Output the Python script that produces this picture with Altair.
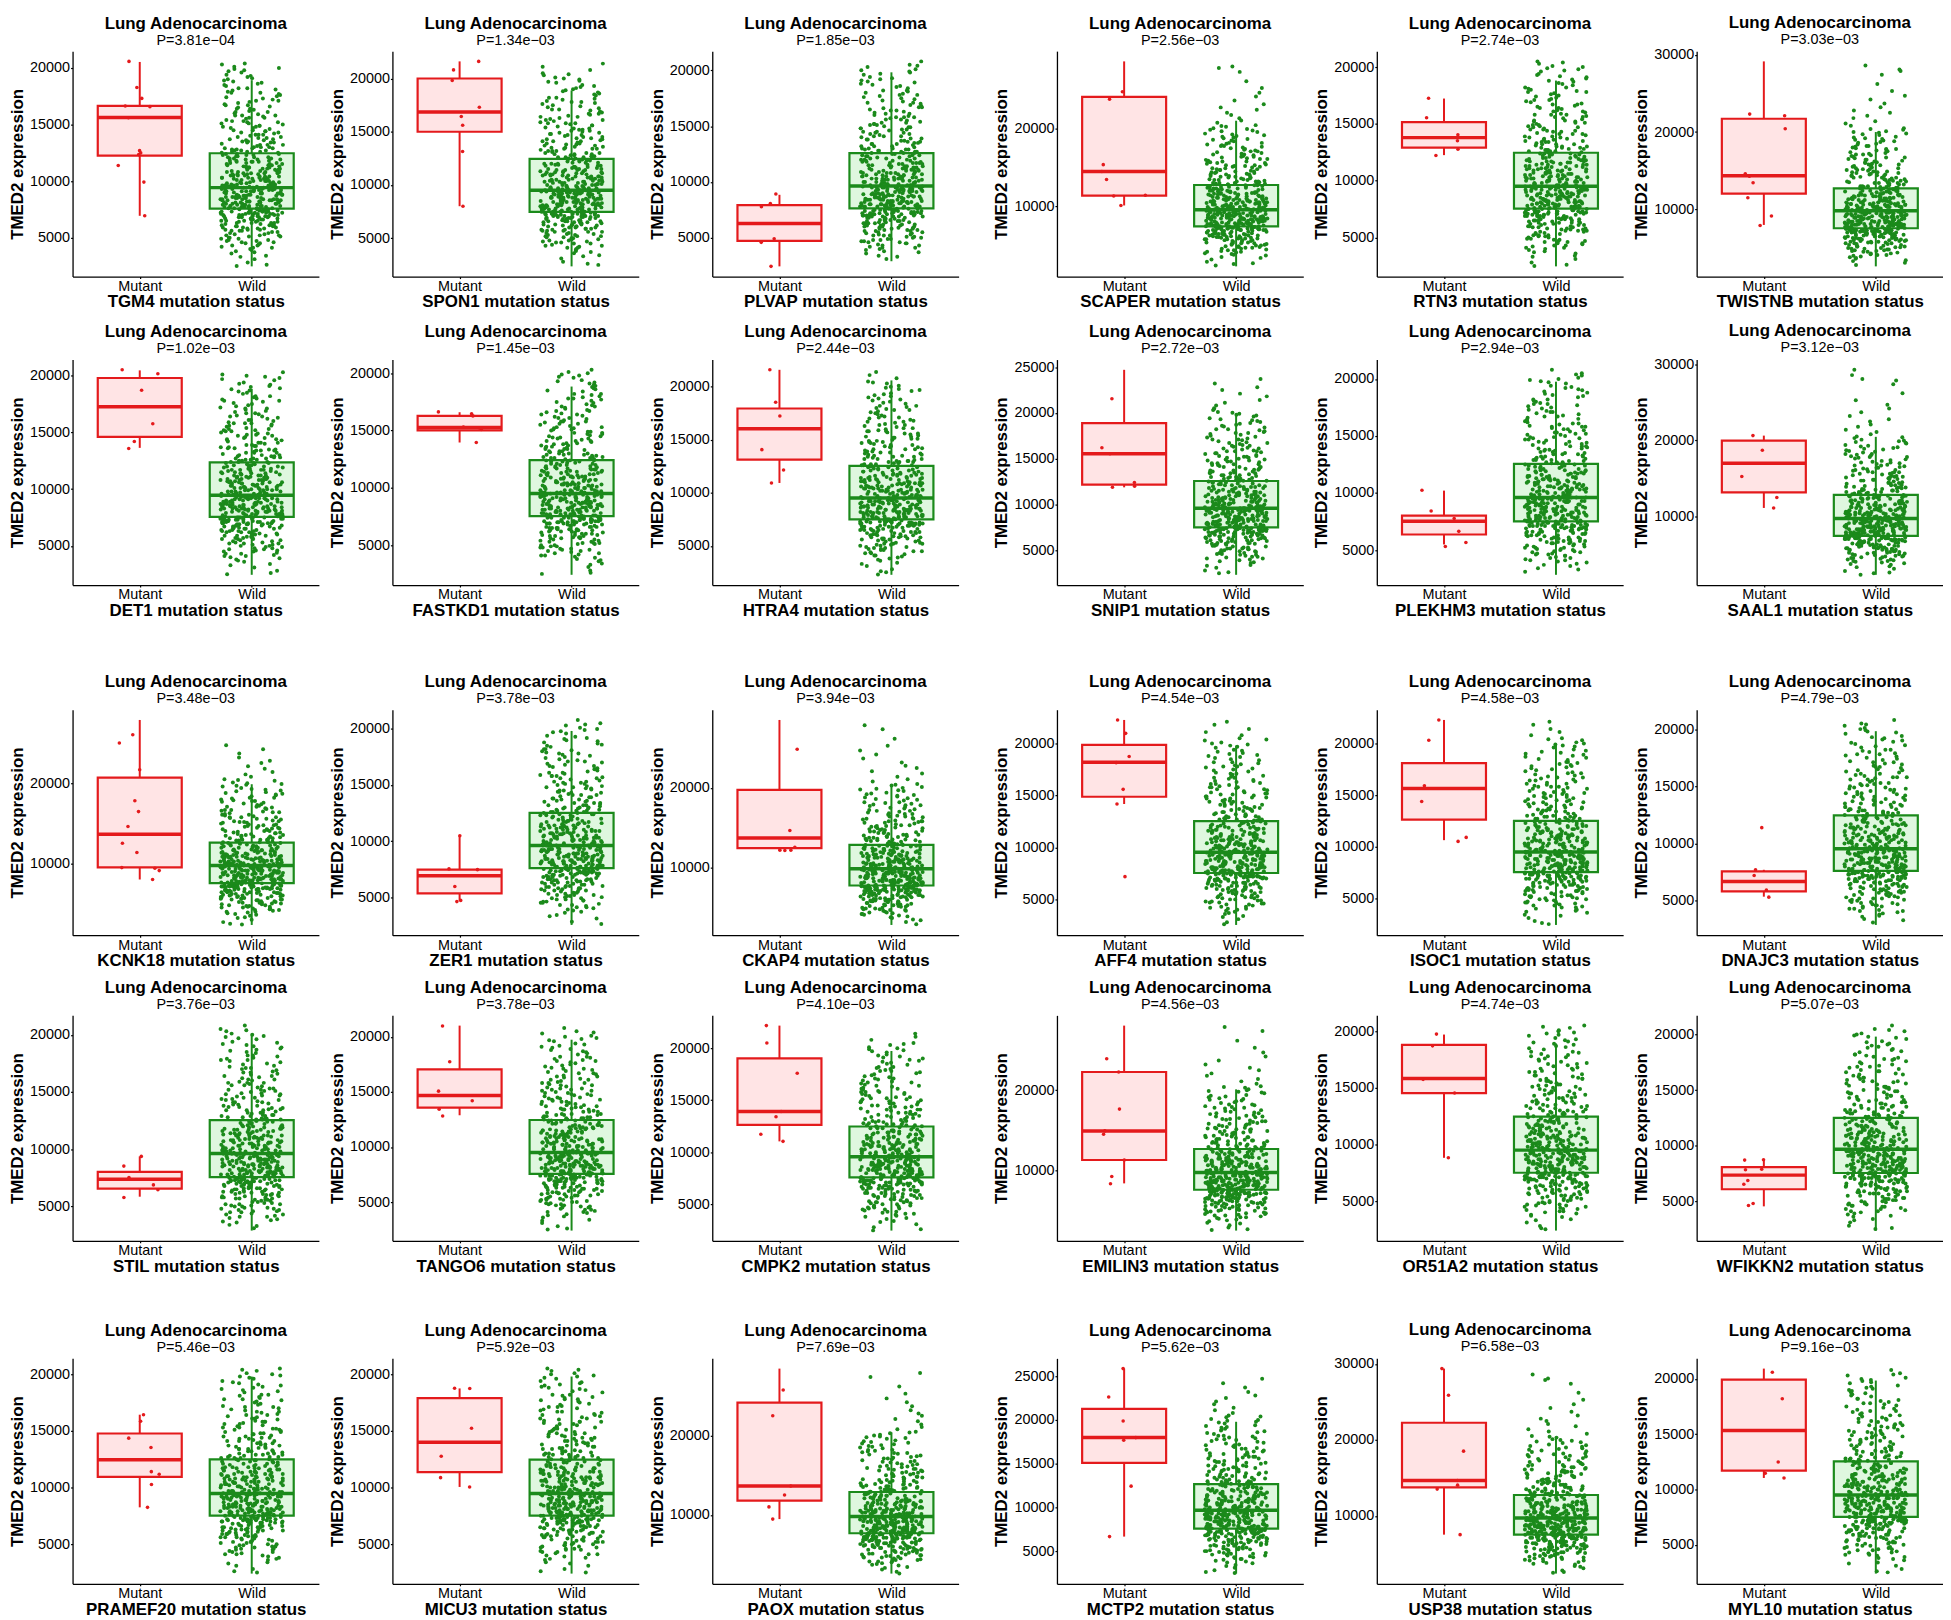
import altair as alt
import pandas as pd

genes = ["TGM4", "SPON1", "PLVAP", "SCAPER", "RTN3", "TWISTNB",
         "DET1", "FASTKD1", "HTRA4", "SNIP1", "PLEKHM3", "SAAL1",
         "KCNK18", "ZER1", "CKAP4", "AFF4", "ISOC1", "DNAJC3",
         "STIL", "TANGO6", "CMPK2", "EMILIN3", "OR51A2", "WFIKKN2",
         "PRAMEF20", "MICU3", "PAOX", "MCTP2", "USP38", "MYL10"]

p_values = ["3.81e-04", "1.34e-03", "1.85e-03", "2.56e-03", "2.74e-03", "3.03e-03",
            "1.02e-03", "1.45e-03", "2.44e-03", "2.72e-03", "2.94e-03", "3.12e-03",
            "3.48e-03", "3.78e-03", "3.94e-03", "4.54e-03", "4.58e-03", "4.79e-03",
            "3.76e-03", "3.78e-03", "4.10e-03", "4.56e-03", "4.74e-03", "5.07e-03",
            "5.46e-03", "5.92e-03", "7.69e-03", "5.62e-03", "6.58e-03", "9.16e-03"]

groups = ["Mutant", "Wild"]

# mutant samples (TMED2 expression)
mut_points = [
    [20580, 18270, 17310, 16580, 16640, 15600, 12690, 12340, 12490, 11370, 9910, 6930],
    [21610, 20810, 19810, 17300, 16430, 15620, 13140, 8010],
    [8925, 8060, 7780, 4910, 4590, 2440],
    [23850, 24830, 15380, 13460, 11320, 11410, 10090, 14490],
    [17260, 15540, 14040, 13510, 12770, 12210],
    [22320, 22100, 20430, 14290, 14590, 13430, 11500, 9140, 7900],
    [20520, 20170, 18720, 15770, 14200, 13590],
    [16630, 16280, 16460, 15090, 15250, 15300, 13960],
    [21600, 18540, 17240, 14070, 12160, 10930],
    [21540, 16190, 15540, 12390, 12000, 11870],
    [10240, 8430, 7760, 6640, 5660, 5310],
    [20630, 18710, 15240, 12480, 11100],
    [26000, 24980, 21670, 17840, 16490, 14650, 12570, 11430, 9550, 9470, 9180, 8080],
    [10470, 7450, 7520, 5950, 4710, 4600],
    [24870, 14620, 12510, 12150, 12150, 12100],
    [22270, 20980, 18750, 18160, 15590, 14180, 7190],
    [22270, 20310, 15900, 14380, 10900, 10510],
    [11390, 7710, 7210, 5930, 5320],
    [9380, 8530, 7530, 6890, 6460, 5790],
    [20990, 17740, 15070, 14200, 13430, 12810],
    [22170, 20500, 17600, 13920, 13410, 11740, 11050],
    [23940, 22270, 17630, 14490, 14900, 11260, 9190, 8280],
    [19750, 18710, 15750, 14540, 8820],
    [8740, 8700, 7840, 7880, 6870, 6530, 4620, 4800],
    [16430, 15850, 14360, 13540, 11400, 11170, 10270, 8250],
    [18750, 18770, 15240, 12760, 10870, 10050],
    [25750, 22500, 13630, 12500, 11000, 9460],
    [25870, 22620, 19870, 17680, 17980, 12430, 6660],
    [29390, 25870, 18520, 14650, 14040, 13520, 7520],
    [20600, 18210, 12480, 11460, 11040],
]

# box statistics: [lower whisker, Q1, median, Q3, upper whisker]
mut_box = [
    [6930, 12250, 15610, 16640, 20530], [8010, 15000, 16860, 20000, 21610],
    [2440, 4730, 6270, 7920, 8850], [10090, 11370, 14490, 24150, 28760],
    [12250, 12910, 13790, 15160, 17230], [7980, 12020, 14330, 21720, 29140],
    [13640, 14610, 17260, 19800, 20470], [13960, 15020, 15260, 16280, 16600],
    [10930, 13130, 16040, 17950, 21600], [11870, 12170, 15540, 18870, 24700],
    [5490, 6360, 7520, 8010, 10210], [11100, 13140, 17000, 19970, 20630],
    [8080, 9590, 13670, 20690, 27840], [4670, 5330, 6900, 7450, 10440],
    [12050, 12410, 13690, 19740, 28560], [14180, 14880, 18200, 19880, 22270],
    [10630, 12620, 15630, 18090, 22270], [5360, 5820, 6680, 7570, 7710],
    [5860, 6570, 7390, 8030, 9380], [12880, 13580, 14670, 17040, 21020],
    [11050, 12640, 13920, 19030, 22170], [8330, 11260, 14900, 22270, 28080],
    [8820, 14540, 15820, 18790, 19710], [4540, 6080, 7350, 8070, 8740],
    [8250, 10940, 12460, 14770, 16430], [10050, 11360, 13990, 17900, 18750],
    [9460, 11790, 13630, 24170, 28460], [6660, 15080, 17980, 21260, 25870],
    [7520, 13740, 14650, 22260, 29390], [11040, 11700, 15340, 19940, 20930],
]

wild_box = [
    [2460, 7570, 9420, 12460, 18920], [2360, 7480, 9500, 12450, 18880],
    [2900, 7630, 9640, 12580, 19820], [2200, 7390, 9530, 12740, 21070],
    [2460, 7540, 9510, 12460, 18810], [2620, 7550, 9830, 12700, 20000],
    [2450, 7550, 9470, 12360, 18830], [2420, 7540, 9510, 12420, 18840],
    [2270, 7500, 9510, 12540, 20600], [2320, 7500, 9580, 12560, 19770],
    [2830, 7520, 9610, 12550, 19760], [2290, 7410, 9720, 12810, 20470],
    [2450, 7630, 9800, 12650, 19880], [2520, 7590, 9600, 12520, 19820],
    [2720, 7690, 9790, 12820, 20360], [2540, 7540, 9530, 12540, 19800],
    [2420, 7540, 9490, 12500, 19880], [2890, 7610, 9540, 12460, 19820],
    [2900, 7570, 9630, 12550, 20000], [2410, 7560, 9490, 12450, 19740],
    [2480, 7600, 9570, 12480, 19730], [2420, 7530, 9700, 12630, 20100],
    [2390, 7500, 9500, 12460, 18930], [2360, 7540, 9680, 12500, 19810],
    [2400, 7510, 9470, 12490, 19800], [2400, 7510, 9470, 12470, 19800],
    [2580, 7670, 9790, 12880, 20420], [2430, 7570, 9680, 12660, 19790],
    [2390, 7520, 9700, 12740, 20220], [2390, 7520, 9490, 12540, 19850],
]

# highest wild-type value shown in each panel
wild_max = [20400, 21500, 20900, 28100, 20600, 28600,
            20300, 20300, 21600, 24000, 21000, 29500,
            25000, 21000, 28000, 22300, 22300, 21000,
            21000, 21000, 21600, 28000, 20600, 21000,
            20600, 20600, 27900, 24900, 28800, 21000]

# wild-type samples, in hundreds of expression units (estimated from the point clouds)
wild_hundreds = [
    23, 25, 28, 31, 34, 36, 38, 39,
    40, 41, 42, 43, 44, 45, 46, 46, 47, 48, 49, 49,
    50, 50, 51, 52, 52, 53, 54, 54, 55, 56, 56, 57, 57, 58, 58, 59, 59, 59,
    60, 60, 61, 61, 62, 62, 63, 63, 63, 64, 64, 65, 65, 66, 66, 66, 67, 67, 68, 68, 68, 69, 69, 69, 69,
    70, 70, 70, 70, 71, 71, 71, 71, 72, 72, 72, 72, 73, 73, 73, 73, 74, 74, 74, 74,
    75, 75, 75, 75, 76, 76, 76, 76, 77, 77, 77, 77, 78, 78, 78, 78, 79, 79, 79, 79,
    80, 80, 80, 80, 81, 81, 81, 81, 82, 82, 82, 82, 83, 83, 83, 83, 84, 84, 84, 84,
    85, 85, 85, 85, 86, 86, 86, 86, 87, 87, 87, 87, 88, 88, 88, 88, 89, 89, 89, 89,
    90, 90, 90, 91, 91, 91, 91, 92, 92, 92, 92, 93, 93, 93, 93, 94, 94, 94,
    94, 95, 95, 95, 95, 96, 96, 96, 96, 97, 97, 97, 98, 98, 98, 99, 99, 99,
    100, 100, 100, 101, 101, 101, 102, 102, 102, 103, 103, 103, 104, 104, 104,
    105, 105, 105, 106, 106, 106, 107, 107, 107, 108, 108, 108, 109, 109, 109,
    110, 110, 110, 111, 111, 112, 112, 112, 113, 113, 114, 114,
    114, 115, 115, 116, 116, 117, 117, 117, 118, 118, 119, 119,
    120, 120, 121, 121, 122, 122, 123, 123, 124, 124,
    125, 125, 126, 126, 127, 127, 128, 128, 129, 129,
    130, 130, 131, 132, 132, 133, 134, 134, 135, 136, 136, 137, 138, 138, 139,
    140, 141, 141, 142, 143, 144, 144, 145, 146, 147, 148, 148, 149,
    150, 151, 152, 152, 153, 154, 155, 156, 157, 158, 158, 159,
    160, 161, 162, 163, 164, 165, 166, 167, 168, 169,
    170, 171, 172, 173, 174, 176, 177, 178, 179,
    180, 181, 182, 184, 185, 187, 188, 189,
    190, 191, 192, 194, 196, 198, 199,
    200, 201, 203, 205, 208,
    211, 214, 218, 221, 225, 228, 232, 237, 242, 247,
    253, 262, 274, 279, 281, 286, 293,
    26, 33, 37, 41, 43, 45, 47, 48,
    51, 52, 53, 55, 56, 57, 58,
    60, 61, 62, 63, 64, 65, 66, 67, 68, 69, 65,
    70, 71, 72, 73, 74, 75, 76, 77, 78, 79, 72, 75, 78, 71,
    80, 81, 82, 83, 84, 85, 86, 87, 88, 89, 81, 84, 87, 83,
    90, 91, 92, 93, 94, 95, 96, 97, 98, 99, 92, 96,
    100, 101, 102, 103, 104, 105, 106, 107, 108, 109, 103,
    110, 111, 112, 113, 114, 115, 116, 117, 118, 119,
    120, 121, 123, 124, 126, 127, 129,
    130, 132, 134, 135, 137, 139,
    141, 143, 145, 147, 149,
    151, 153, 156, 158,
    161, 164, 167, 171, 175, 178, 182, 186, 193, 197, 204,
]

y_ticks = [
    [5000, 10000, 15000, 20000], [5000, 10000, 15000, 20000], [5000, 10000, 15000, 20000],
    [10000, 20000], [5000, 10000, 15000, 20000], [10000, 20000, 30000],
    [5000, 10000, 15000, 20000], [5000, 10000, 15000, 20000], [5000, 10000, 15000, 20000],
    [5000, 10000, 15000, 20000, 25000], [5000, 10000, 15000, 20000], [10000, 20000, 30000],
    [10000, 20000], [5000, 10000, 15000, 20000], [10000, 20000],
    [5000, 10000, 15000, 20000], [5000, 10000, 15000, 20000], [5000, 10000, 15000, 20000],
    [5000, 10000, 15000, 20000], [5000, 10000, 15000, 20000], [5000, 10000, 15000, 20000],
    [10000, 20000], [5000, 10000, 15000, 20000], [5000, 10000, 15000, 20000],
    [5000, 10000, 15000, 20000], [5000, 10000, 15000, 20000], [10000, 20000],
    [5000, 10000, 15000, 20000, 25000], [10000, 20000, 30000], [5000, 10000, 15000, 20000],
]

RED = "#E41A1C"
GREEN = "#1B8A1B"
RED_FILL = "#FFE4E5"
GREEN_FILL = "#DFF7DF"
FONT = "Liberation Sans"
LABEL_SIZE = 14.5

PW, PH = 248, 227


def panel(k):
    mp = mut_points[k]
    mb = mut_box[k]
    wb = wild_box[k]
    wv = [v * 100 for v in wild_hundreds if wb[0] <= v * 100 <= wild_max[k]]
    pts = pd.DataFrame({
        "g": [1] * len(mp) + [2] * len(wv),
        "v": mp + wv,
        "i": list(range(len(mp))) + list(range(len(wv))),
    })
    box = pd.DataFrame({
        "g": [1, 2],
        "lo": [mb[0], wb[0]], "q1": [mb[1], wb[1]], "med": [mb[2], wb[2]],
        "q3": [mb[3], wb[3]], "hi": [mb[4], wb[4]],
    })
    lo = min(mb[0], wb[0], min(mp), min(wv))
    hi = max(mb[4], wb[4], max(mp), max(wv))
    pad = 0.05 * (hi - lo)
    d0, d1 = lo - pad, hi + pad
    # keep titles level when the top tick label pokes above the plot
    dist = (d1 - max(y_ticks[k])) / (d1 - d0) * PH
    overhang = max(0.0, LABEL_SIZE / 2 - dist)

    xs = alt.Scale(domain=[0.4, 2.6], nice=False, zero=False)
    ys = alt.Scale(domain=[d0, d1], nice=False, zero=False)
    xa = alt.Axis(values=[1, 2], labelExpr="datum.value == 1 ? 'Mutant' : 'Wild'",
                  title=f"{genes[k]} mutation status")
    ya = alt.Axis(values=y_ticks[k], format="d", title="TMED2 expression")
    col = alt.Scale(domain=[1, 2], range=[RED, GREEN])
    fil = alt.Scale(domain=[1, 2], range=[RED_FILL, GREEN_FILL])

    base = alt.Chart(box).transform_calculate(xl="datum.g - 0.375", xr="datum.g + 0.375")
    fill = base.mark_rect().encode(
        x=alt.X("xl:Q", scale=xs, axis=xa), x2="xr:Q",
        y=alt.Y("q1:Q", scale=ys, axis=ya), y2="q3:Q",
        fill=alt.Fill("g:N", scale=fil, legend=None))
    points = alt.Chart(pts).transform_calculate(
        xj=("datum.g + ((abs(sin((datum.i + 1) * 12.9898 + %d * 78.233) * 43758.5453) %% 1) - 0.5)"
            " * (datum.g == 1 ? 0.4 : 0.56)") % (k + 1)
    ).mark_circle(opacity=1).encode(
        x=alt.X("xj:Q", scale=xs, axis=xa),
        y=alt.Y("v:Q", scale=ys, axis=ya),
        color=alt.Color("g:N", scale=col, legend=None),
        size=alt.Size("g:N", scale=alt.Scale(domain=[1, 2], range=[13, 16]), legend=None))
    wl = base.mark_rule(strokeWidth=2).encode(
        x=alt.X("g:Q", scale=xs, axis=xa),
        y=alt.Y("lo:Q", scale=ys, axis=ya), y2="q1:Q",
        color=alt.Color("g:N", scale=col, legend=None))
    wu = base.mark_rule(strokeWidth=2).encode(
        x=alt.X("g:Q", scale=xs, axis=xa),
        y=alt.Y("q3:Q", scale=ys, axis=ya), y2="hi:Q",
        color=alt.Color("g:N", scale=col, legend=None))
    outline = base.mark_rect(fillOpacity=0, strokeWidth=2.2).encode(
        x=alt.X("xl:Q", scale=xs, axis=xa), x2="xr:Q",
        y=alt.Y("q1:Q", scale=ys, axis=ya), y2="q3:Q",
        stroke=alt.Stroke("g:N", scale=col, legend=None))
    median = base.mark_rule(strokeWidth=3.5).encode(
        x=alt.X("xl:Q", scale=xs, axis=xa), x2="xr:Q",
        y=alt.Y("med:Q", scale=ys, axis=ya),
        color=alt.Color("g:N", scale=col, legend=None))

    return alt.layer(fill, points, wl, wu, outline, median).properties(
        width=PW, height=PH,
        title=alt.TitleParams(
            "Lung Adenocarcinoma",
            subtitle="P=" + p_values[k].replace("-", "\u2212"),
            anchor="middle", frame="group", font=FONT, fontSize=17, fontWeight="bold",
            color="black", subtitleFont=FONT, subtitleFontSize=14.5, subtitleColor="black",
            subtitlePadding=1, offset=3, dy=round(overhang, 2)))


S1, S2 = 9, 34


def row(r):
    ps = [panel(r * 6 + c) for c in range(6)]
    return alt.hconcat(alt.hconcat(*ps[:3], spacing=S1),
                       alt.hconcat(*ps[3:], spacing=S1), spacing=S2)


rows = [row(r) for r in range(5)]
top = alt.vconcat(alt.vconcat(rows[0], rows[1], spacing=11.5),
                  alt.vconcat(rows[2], rows[3], spacing=9.7), spacing=55)
chart = alt.vconcat(top, rows[4], spacing=46).properties(
    padding=0
).configure_view(stroke=None).configure_axis(
    grid=False, domainColor="black", domainWidth=1.3, tickColor="black",
    tickSize=2, tickWidth=1.2, labelColor="black", labelFont=FONT, labelFontSize=LABEL_SIZE,
    titleFont=FONT, titleFontSize=17, titleFontWeight="bold", titleColor="black",
    labelFlush=False, labelPadding=1, titlePadding=3
).configure_axisX(titlePadding=1)

chart.save("out.html", embed_options={"renderer": "svg", "actions": False})
